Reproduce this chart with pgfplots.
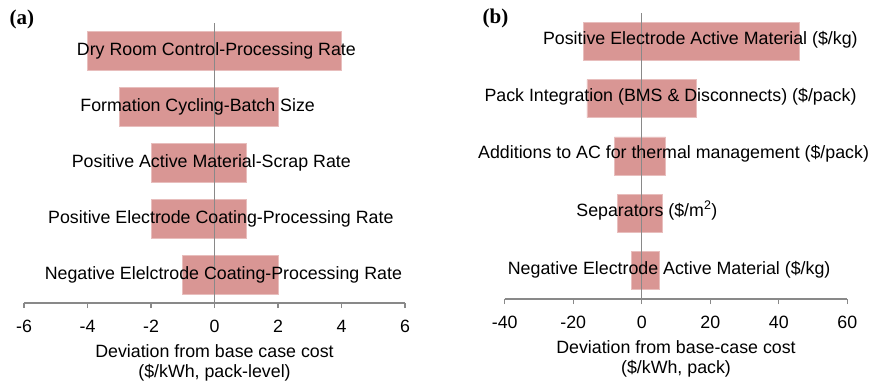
\documentclass[border=0pt]{standalone}
\usepackage{pgfplots}
\pgfplotsset{compat=1.18}
\usepackage{fontspec}
\setmainfont{Liberation Sans}
\newfontfamily\serifb{Liberation Serif}
\definecolor{barfill}{HTML}{D99694}
\definecolor{baredge}{HTML}{E8BEBD}
\definecolor{axgray}{HTML}{898989}
\newcommand{\chartfont}{\fontsize{17.8}{20}\selectfont}
\pgfplotsset{
  tornado/.style={
    scale only axis,
    clip=false,
    axis x line*=bottom,
    axis y line=none,
    x axis line style={-, draw=axgray, line width=1.2pt},
    ymin=-0.5, ymax=4.5,
    ytick=\empty,
    tick align=outside,
    major tick length=5pt,
    xtick pos=bottom,
    every tick/.style={draw=axgray, line width=1.2pt},
    tick label style={font=\chartfont},
    xticklabel style={anchor=north, inner sep=0pt, yshift=-12pt},
    xlabel style={at={(axis description cs:0.5,0)}, anchor=north, yshift=-41.3pt,
      align=center, inner sep=0pt, font=\chartfont},
  },
  barneg/.style={xbar, bar shift=0pt, fill=barfill, draw=baredge, line width=0.6pt},
}
\tikzset{lab/.style={anchor=base, inner sep=0pt, font=\chartfont, text=black}}
\begin{document}
\begin{tikzpicture}
\useasboundingbox (0pt,0pt) rectangle (871pt,-386pt);
% Panel (a)
\begin{axis}[tornado,
  at={(24pt,-303pt)}, anchor=south west,
  width=381pt, height=280pt,
  xmin=-6, xmax=6,
  xtick={-6,-4,-2,0,2,4,6},
  xticklabels={-6,-4,-2,0,2,4,6},
  xlabel={Deviation from base case cost\\(\$/kWh, pack-level)},
]
\addplot[barneg, bar width=38.5pt] coordinates {(-4,4) (-3,3) (-2,2) (-2,1) (-1,0)};
\addplot[barneg, bar width=38.5pt] coordinates {(4,4) (2,3) (1,2) (1,1) (2,0)};
\addplot[axgray, line width=1.5pt] coordinates {(0,-0.5) (0,4.5)};
\node[lab, yshift=-4pt] at (axis cs:0.06,4) {Dry Room Control-Processing Rate};
\node[lab, yshift=-4pt] at (axis cs:-0.53,3) {Formation Cycling-Batch Size};
\node[lab, yshift=-4pt] at (axis cs:-0.1,2) {Positive Active Material-Scrap Rate};
\node[lab, yshift=-4pt] at (axis cs:0.2,1) {Positive Electrode Coating-Processing Rate};
\node[lab, yshift=-4pt] at (axis cs:0.28,0) {Negative Elelctrode Coating-Processing Rate};
\end{axis}
% Panel (b)
\begin{axis}[tornado,
  at={(504.7pt,-299pt)}, anchor=south west,
  width=342.6pt, height=286.3pt,
  xmin=-40, xmax=60,
  xtick={-40,-20,0,20,40,60},
  xticklabels={-40,-20,0,20,40,60},
  xlabel={Deviation from base-case cost\\(\$/kWh, pack)},
]
\addplot[barneg, bar width=38pt] coordinates {(-17,4) (-16,3) (-8,2) (-7,1) (-3,0)};
\addplot[barneg, bar width=38pt] coordinates {(46,4) (16,3) (7,2) (6,1) (5,0)};
\addplot[axgray, line width=1.5pt] coordinates {(0,-0.5) (0,4.5)};
\node[lab, yshift=-3pt] at (axis cs:17.1,4) {Positive Electrode Active Material (\$/kg)};
\node[lab, yshift=-3pt] at (axis cs:8.4,3) {Pack Integration (BMS \& Disconnects) (\$/pack)};
\node[lab, yshift=-3pt] at (axis cs:9.3,2) {Additions to AC for thermal management (\$/pack)};
\node[lab, yshift=-3pt] at (axis cs:1.5,1) {Separators (\$/m\textsuperscript{2})};
\node[lab, yshift=-4pt] at (axis cs:8.0,0) {Negative Electrode Active Material (\$/kg)};
\end{axis}
\node[anchor=west, inner sep=0pt, font=\serifb\bfseries\fontsize{21}{21}\selectfont] at (9.5pt,-19.5pt) {(a)};
\node[anchor=west, inner sep=0pt, font=\serifb\bfseries\fontsize{21}{21}\selectfont] at (482.5pt,-18pt) {(b)};
\end{tikzpicture}
\end{document}
